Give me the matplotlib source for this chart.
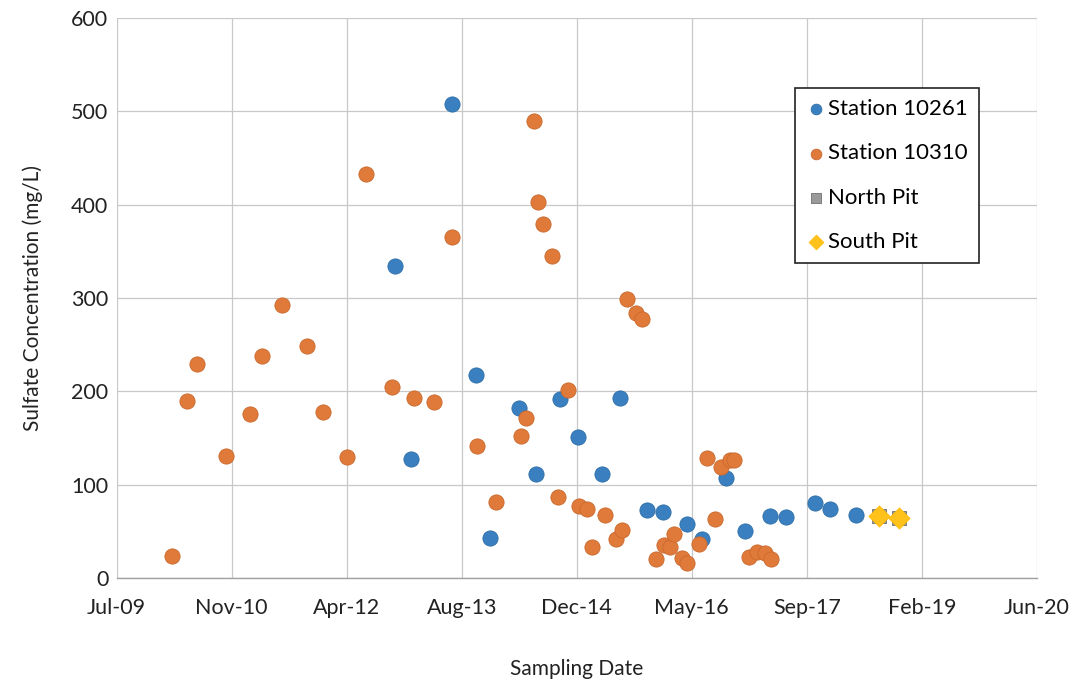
import matplotlib
matplotlib.use("Agg")
import matplotlib.pyplot as plt
import pandas as pd

# Sampling dates as Excel serial day numbers, concentrations in mg/L
st10261_day = [41209, 41279, 41457, 41561, 41623, 41748, 41822, 41926, 42004, 42109,
               42186, 42305, 42375, 42478, 42543, 42649, 42731, 42842, 42909, 43036,
               43103, 43213]
st10261_val = [334, 128, 508, 218, 43, 182, 111, 192, 151, 112,
               193, 73, 71, 58, 42, 107, 51, 67, 65, 80,
               74, 68]

st10310_day = [40239, 40306, 40349, 40477, 40578, 40633, 40717, 40827, 40899, 41000,
               41085, 41197, 41294, 41379, 41459, 41567, 41651, 41758, 41778, 41815,
               41833, 41855, 41891, 41920, 41964, 42010, 42044, 42067, 42124, 42172,
               42196, 42220, 42259, 42284, 42344, 42380, 42405, 42423, 42457, 42478,
               42531, 42565, 42602, 42626, 42667, 42684, 42749, 42782, 42818, 42845]
st10310_val = [24, 190, 229, 131, 176, 238, 292, 249, 178, 130,
               433, 205, 193, 189, 365, 142, 81, 152, 171, 490,
               403, 379, 345, 87, 201, 77, 74, 33, 68, 42,
               52, 299, 284, 277, 20, 36, 33, 47, 22, 16,
               37, 129, 63, 119, 126, 127, 23, 28, 27, 21]

north_pit_day = [43316, 43402]
north_pit_val = [67, 64]
south_pit_day = [43316, 43402]
south_pit_val = [67, 64]

tick_days = [40000, 40500, 41000, 41500, 42000, 42500, 43000, 43500, 44000]
tick_labels = ["Jul-09", "Nov-10", "Apr-12", "Aug-13", "Dec-14", "May-16", "Sep-17", "Feb-19", "Jun-20"]
y_ticks = [0, 100, 200, 300, 400, 500, 600]


def to_date(days):
    return pd.to_datetime(pd.Series(days), unit="D", origin="1899-12-30")


plt.rcParams['font.family'] = ['Lato', 'DejaVu Sans']

fig = plt.figure(figsize=(10.8, 6.85), dpi=100)
ax = fig.add_axes([0.108, 0.156, 0.852, 0.818])

ax.scatter(to_date(st10261_day), st10261_val, s=120, color="#3A7FBF",
           edgecolors="#2F6FA8", linewidths=0.6, label="Station 10261", zorder=3)
ax.scatter(to_date(st10310_day), st10310_val, s=120, color="#E07A3A",
           edgecolors="#C9682C", linewidths=0.6, label="Station 10310", zorder=3)
ax.scatter(to_date(north_pit_day), north_pit_val, s=90, marker="s", color="#9A9A9A",
           edgecolors="#707070", linewidths=0.6, label="North Pit", zorder=3)
ax.scatter(to_date(south_pit_day), south_pit_val, s=120, marker="D", color="#FFC21A",
           edgecolors="#FFB800", linewidths=0.4, label="South Pit", zorder=4)

tick_dates = to_date(tick_days)
ax.set_xlim(tick_dates.iloc[0], tick_dates.iloc[-1])
ax.set_xticks(tick_dates)
ax.set_xticklabels(tick_labels)
ax.set_ylim(0, 600)
ax.set_yticks(y_ticks)

ax.grid(True, color="#C8C8C8", linewidth=0.9, zorder=0)
ax.set_axisbelow(True)
for side in ["top", "right", "left"]:
    ax.spines[side].set_visible(False)
ax.spines["bottom"].set_color("#A0A0A0")
ax.spines["bottom"].set_linewidth(1.0)
ax.tick_params(axis="both", length=0, labelsize=15.5, colors="#222222")
ax.tick_params(axis="y", pad=6)
ax.tick_params(axis="x", pad=14)

ax.set_ylabel("Sulfate Concentration (mg/L)", fontsize=15, color="#222222", labelpad=20)
ax.set_xlabel("Sampling Date", fontsize=15, color="#222222", labelpad=30)

leg = ax.legend(loc="upper left", bbox_to_anchor=(0.737, 0.875), fontsize=16,
                frameon=True, fancybox=False, edgecolor="#222222", framealpha=1,
                markerscale=0.7, handletextpad=0.1, labelspacing=1.1,
                borderpad=0.5, handlelength=0.9, borderaxespad=0)
leg.get_frame().set_linewidth(1.2)

fig.savefig("out.png", dpi=100)
